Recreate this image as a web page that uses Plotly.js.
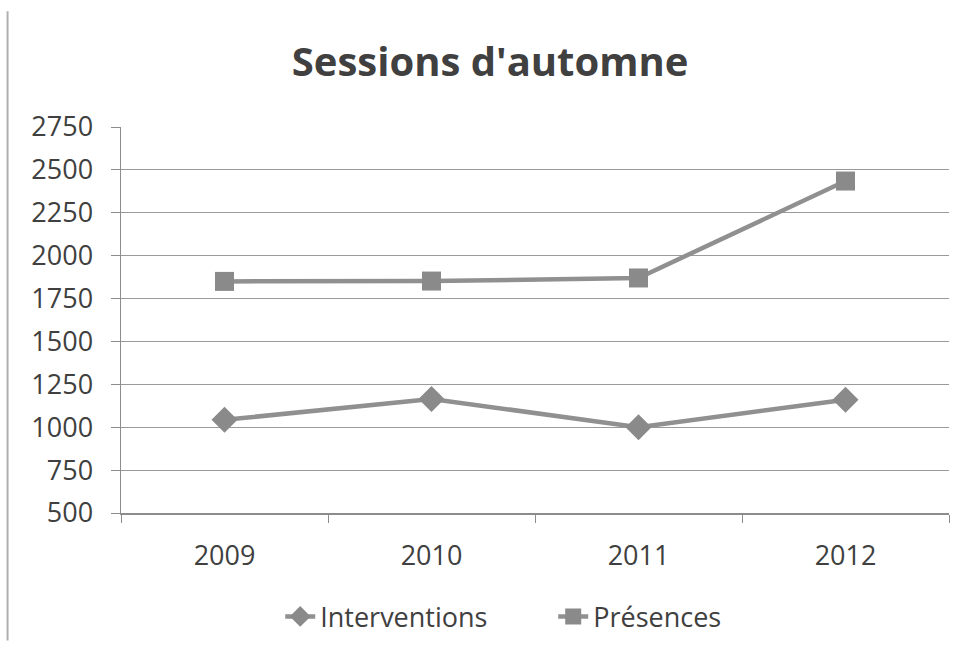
<!DOCTYPE html>
<html><head><meta charset="utf-8">
<script src="https://cdn.plot.ly/plotly-3.0.1.min.js"></script>
<style>body{margin:0;background:#fff}#c{width:961px;height:655px}</style>
</head><body><div id="c"></div>
<script>
const years = ["2009", "2010", "2011", "2012"];
const interventions = [1043, 1165, 1000, 1160];
const presences = [1850, 1852, 1870, 2435];
const yTicks = [500, 750, 1000, 1250, 1500, 1750, 2000, 2250, 2500, 2750];

const font = "Open Sans, Noto Sans, sans-serif";
const traces = [
  {x: years, y: interventions, name: "Interventions", type: "scatter", mode: "lines+markers",
   line: {color: "#909090", width: 4.5}, marker: {symbol: "diamond", size: 20, color: "#8a8a8a"}},
  {x: years, y: presences, name: "Présences", type: "scatter", mode: "lines+markers",
   line: {color: "#909090", width: 4.5}, marker: {symbol: "square", size: 19, color: "#8a8a8a"}}
];
const layout = {
  width: 961, height: 655,
  paper_bgcolor: "#ffffff", plot_bgcolor: "#ffffff",
  margin: {l: 121, r: 12, t: 127, b: 142},
  title: {text: "<b>Sessions d'automne</b>", x: 0.51, xanchor: "center", y: 0.905, yanchor: "middle",
          font: {family: font, size: 40, color: "#404040"}},
  xaxis: {type: "category", range: [-0.5, 3.5], tickson: "boundaries", ticks: "outside", ticklen: 8,
          tickcolor: "#8c8c8c", showgrid: false, showline: true, linecolor: "#8c8c8c", linewidth: 1.5,
          tickfont: {family: font, size: 27, color: "#404040"}, zeroline: false, ticklabelstandoff: 18},
  yaxis: {range: [500, 2750], tickvals: yTicks, ticktext: yTicks.map(String), ticks: "outside", ticklen: 9,
          tickcolor: "#8c8c8c", showgrid: true, gridcolor: "#9a9a9a", gridwidth: 1.2, showline: true,
          linecolor: "#8c8c8c", linewidth: 1.5, zeroline: false, ticklabelstandoff: 12,
          tickfont: {family: font, size: 27, color: "#404040"}},
  showlegend: true,
  legend: {orientation: "h", x: 0.522, xanchor: "center", y: -0.269, yanchor: "middle",
           font: {family: font, size: 27, color: "#404040"}, traceorder: "normal", entrywidth: 228},
  shapes: [
    {type: "line", xref: "paper", yref: "paper", x0: -0.137, x1: -0.137, y0: -0.33, y1: 1.3, line: {color: "#b0b0b0", width: 2}}
  ]
};
Plotly.newPlot("c", traces, layout, {displayModeBar: false, staticPlot: true});
</script></body></html>
